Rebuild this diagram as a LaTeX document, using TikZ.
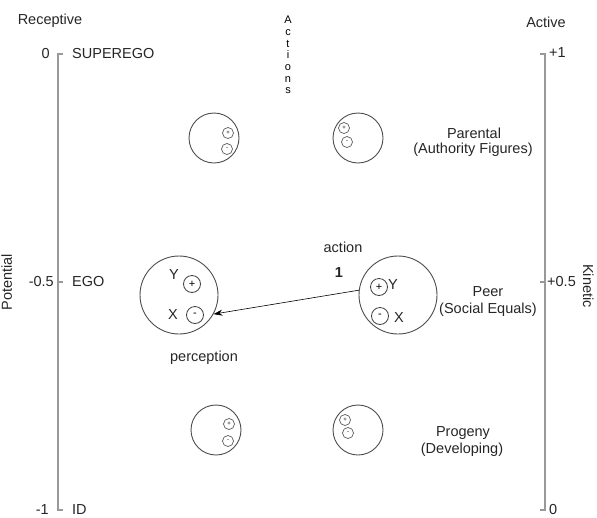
\documentclass[tikz,border=0pt]{standalone}
\usepackage{fontspec}
\setmainfont{Liberation Sans}
\usetikzlibrary{arrows.meta}

\tikzset{
  lbl/.style={font=\fontsize{14.5}{17}\selectfont,text=black!85,inner sep=0pt},
  mind/.style={circle,draw=black!70,line width=0.9pt,minimum size=#1,inner sep=0pt},
  pole/.style={circle,draw=black!75,line width=0.8pt,minimum size=#1,inner sep=0pt,font=\fontsize{11}{11}\selectfont},
  tinypole/.style={circle,draw=black!65,line width=0.7pt,minimum size=11pt,inner sep=0pt,font=\fontsize{6}{6}\selectfont},
  scaleline/.style={draw=black!40,line width=1.6pt}
}

\begin{document}
\begin{tikzpicture}[x=1pt,y=-1pt]
    \useasboundingbox (0,0) rectangle (597,517);
    \coordinate (ltop) at (58,54);
    \coordinate (lmid) at (58,282);
    \coordinate (lbot) at (58,510);
    \coordinate (rtop) at (545,54);
    \coordinate (rmid) at (545,282);
    \coordinate (rbot) at (545,510);
    \draw[scaleline] ([xshift=5pt]ltop) -- (ltop) -- (lbot) -- ([xshift=5pt]lbot);
    \draw[scaleline] (lmid) -- ([xshift=5pt]lmid);
    \draw[scaleline] ([xshift=-5pt]rtop) -- (rtop) -- (rbot) -- ([xshift=-5pt]rbot);
    \draw[scaleline] (rmid) -- ([xshift=-5pt]rmid);
    \node[lbl] (receptive) at (50,21) {Receptive};
    \node[lbl] (active) at (546,22) {Active};
    \node[lbl,anchor=east] (lzero) at (50,54) {0};
    \node[lbl,anchor=east] (lhalf) at (54,282) {-0.5};
    \node[lbl,anchor=east] (lone) at (49,510) {-1};
    \node[lbl,anchor=west] (superego) at (72,54) {SUPEREGO};
    \node[lbl,anchor=west] (egotext) at (72,282) {EGO};
    \node[lbl,anchor=west] (idtext) at (72,510) {ID};
    \node[lbl,anchor=west] (rone) at (549,53) {+1};
    \node[lbl,anchor=west] (rhalf) at (547,282) {+0.5};
    \node[lbl,anchor=west] (rzero) at (549,510) {0};
    \node[lbl,rotate=90,anchor=base] (potential) at (12,282) {Potential};
    \node[lbl,rotate=-90,anchor=base] (kinetic) at (583,286) {Kinetic};
    \node[font=\fontsize{11}{11.7}\selectfont,align=center,inner sep=0pt] (actions) at (288,55) {A\\c\\t\\i\\o\\n\\s};
    \node[mind=50pt] (parA) at (214,138) {};
    \node[tinypole] (parAp) at (228,133) {+};
    \node[tinypole] (parAm) at (227,149) {-};
    \node[mind=50pt] (parB) at (358,138) {};
    \node[tinypole] (parBp) at (344,128) {+};
    \node[tinypole] (parBm) at (347,142) {-};
    \node[lbl] (parental) at (474,133) {Parental};
    \node[lbl] (authority) at (473,150) {(Authority Figures)};
    \node[mind=78pt] (ego) at (179,295) {};
    \node[pole=17pt] (egop) at (192,284) {+};
    \node[pole=17pt] (egom) at (195,315) {-};
    \node[lbl] (egoy) at (174,275) {Y};
    \node[lbl] (egox) at (173,315) {X};
    \node[mind=78pt] (peer) at (398,295) {};
    \node[pole=17pt] (peerp) at (379,287) {+};
    \node[pole=17pt] (peerm) at (380,316) {-};
    \node[lbl] (peery) at (393,285) {Y};
    \node[lbl] (peerx) at (399,318) {X};
    \node[lbl] (action) at (343,247) {action};
    \node[lbl] (one) at (339,273) {\textbf{1}};
    \node[lbl] (perception) at (204,358) {perception};
    \node[lbl] (peertext) at (488,292) {Peer};
    \node[lbl] (social) at (488,310) {(Social Equals)};
    \node[mind=50pt] (proA) at (216,430) {};
    \node[tinypole] (proAp) at (229,424) {+};
    \node[tinypole] (proAm) at (228,441) {-};
    \node[mind=50pt] (proB) at (358,430) {};
    \node[tinypole] (proBp) at (345,420) {+};
    \node[tinypole] (proBm) at (348,433) {-};
    \node[lbl] (progeny) at (463,433) {Progeny};
    \node[lbl] (developing) at (462,450) {(Developing)};
    \draw[-{Stealth[length=9pt,width=6pt]},line width=0.6pt] (peer.173) -- (ego.-29);
\end{tikzpicture}
\end{document}
